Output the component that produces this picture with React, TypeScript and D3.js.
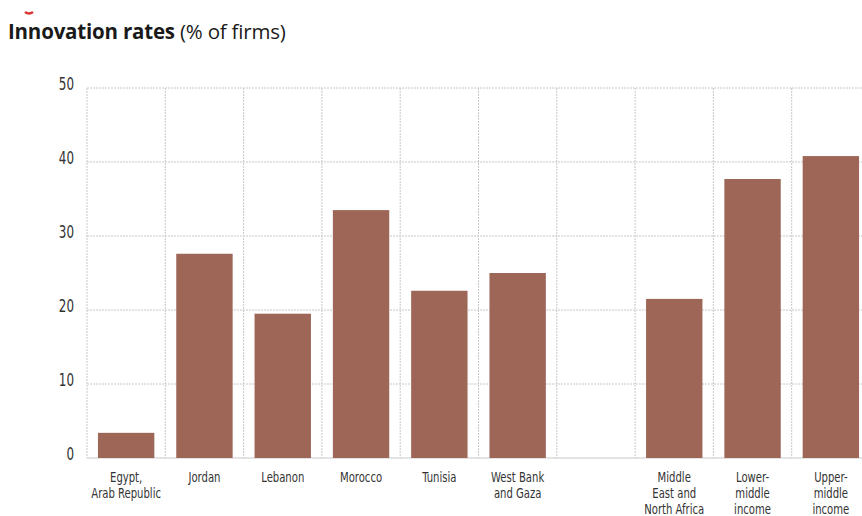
import React from "react";
import * as d3 from "d3";

const categories: string[][] = [
  ["Egypt,", "Arab Republic"],
  ["Jordan"],
  ["Lebanon"],
  ["Morocco"],
  ["Tunisia"],
  ["West Bank", "and Gaza"],
  [],
  ["Middle", "East and", "North Africa"],
  ["Lower-", "middle", "income"],
  ["Upper-", "middle", "income"],
];
const values: (number | null)[] = [3.4, 27.6, 19.5, 33.5, 22.6, 25.0, null, 21.5, 37.7, 40.8];
const yTicks: number[] = [0, 10, 20, 30, 40, 50];

const W = 862;
const H = 516;
const left = 87;
const right = 870;
const top = 88;
const bottom = 458;
const font = "'DejaVu Sans Condensed', 'Liberation Sans Narrow', 'DejaVu Sans', sans-serif";

export default function App() {
  const idx = categories.map((_, i) => String(i));
  const x = d3.scaleBand<string>().domain(idx).range([left, right]).paddingInner(0.28).paddingOuter(0.14);
  const y = d3.scaleLinear().domain([0, 50]).range([bottom, top]);
  const step = x.step();
  const boundaries = d3.range(categories.length + 1).map((i) => left + i * step);

  return (
    <svg width={W} height={H} style={{ position: "absolute", left: 0, top: 0, background: "#fff" }}>
      <rect x={0} y={0} width={W} height={H} fill="#fff" />
      <path d="M25,12 Q29,15 33,12" stroke="#d8362e" strokeWidth={2.5} fill="none" />
      <text x={8} y={39} fontFamily="'Open Sans', 'Noto Sans', sans-serif" fontSize={20.5} fill="#1a1a1a" letterSpacing="-0.2">
        <tspan fontWeight="bold">Innovation rates</tspan>
        <tspan> (% of firms)</tspan>
      </text>
      {yTicks.map((t) => (
        <g key={t}>
          <line x1={left} x2={W} y1={y(t)} y2={y(t)} stroke="#c8c8c8" strokeWidth={1} strokeDasharray={t === 0 ? "none" : "2,1"} />
          <text x={74} y={y(t)} dy="0.1em" textAnchor="end" fontFamily={font} fontStretch="condensed" fontSize={17} fill="#333" transform={`translate(74,0) scale(0.78,1) translate(-74,0)`}>
            {t}
          </text>
        </g>
      ))}
      {boundaries.map((bx, i) => (
        <line key={i} x1={bx} x2={bx} y1={top} y2={bottom} stroke="#c8c8c8" strokeWidth={1} strokeDasharray="2,1" />
      ))}
      {values.map((v, i) =>
        v == null ? null : (
          <rect key={i} x={x(String(i))} y={y(v)} width={x.bandwidth()} height={y(0) - y(v)} fill="#9d6657" />
        )
      )}
      {categories.map((lines, i) => {
        const cx = (x(String(i)) as number) + x.bandwidth() / 2;
        return (
          <text key={i} textAnchor="middle" fontFamily={font} fontStretch="condensed" fontSize={14} fill="#333" transform={`translate(${cx},0) scale(0.8,1) translate(${-cx},0)`}>
            {lines.map((l, j) => (
              <tspan key={j} x={cx} y={482 + j * 16}>
                {l}
              </tspan>
            ))}
          </text>
        );
      })}
    </svg>
  );
}
